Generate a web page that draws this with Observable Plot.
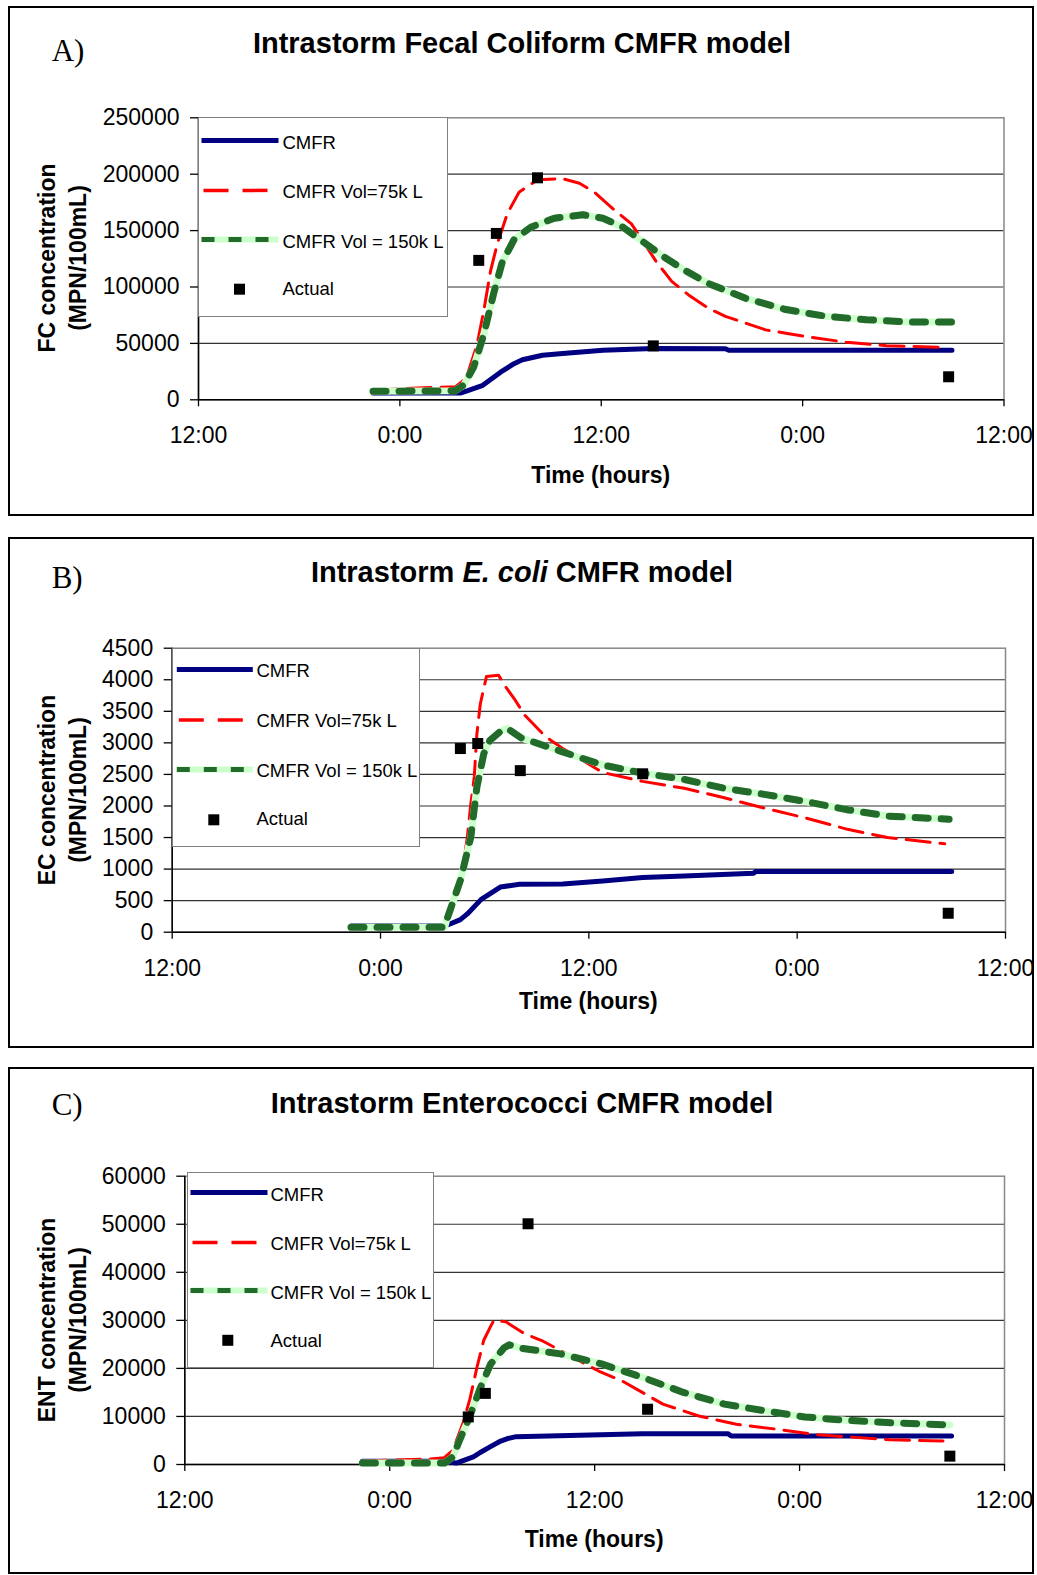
<!DOCTYPE html>
<html><head><meta charset="utf-8">
<script src="https://cdn.jsdelivr.net/npm/d3@7"></script>
<script src="https://cdn.jsdelivr.net/npm/@observablehq/plot@0.6"></script>
<style>
body{margin:0;background:#fff;}
#page{position:relative;width:1037px;height:1575px;overflow:hidden;font-family:"Liberation Sans",Arial,sans-serif;color:#000;}
.box{position:absolute;border:2px solid #000;box-sizing:border-box;pointer-events:none;}
.abs{position:absolute;white-space:nowrap;}
.letter{font-family:"Liberation Serif","Times New Roman",serif;font-size:31px;line-height:1;}
.title{font-weight:bold;font-size:29px;line-height:1;text-align:center;}
.xt{font-weight:bold;font-size:23px;line-height:1;text-align:center;}
.yt{font-weight:bold;font-size:23px;line-height:31px;text-align:center;transform:rotate(-90deg);}
.legend{position:absolute;background:#fff;border:1.5px solid #808080;box-sizing:border-box;}
.legend .lab{position:absolute;font-size:18.5px;line-height:24px;white-space:nowrap;}
.plotsvg{position:absolute;left:0;}
</style></head><body><div id="page"></div>
<script>
// ---------- shared ----------
const timeTicks = [0, 12, 24, 36, 48];
const timeTickLabels = ["12:00", "0:00", "12:00", "0:00", "12:00"];
const seriesNames = ["CMFR", "CMFR Vol=75k L", "CMFR Vol = 150k L", "Actual"];
const xTitle = "Time (hours)";

// ---------- Panel A : Fecal Coliform ----------
const fcTicks = [0, 50000, 100000, 150000, 200000, 250000];
const fcCmfrT = [10.4, 15.6, 16.0, 16.9, 18.0, 18.8, 19.3, 20.5, 21.7, 24.1, 27.1, 31.4, 31.6, 44.9];
const fcCmfrV = [6000, 6000, 8000, 12500, 24500, 32000, 35500, 39500, 41000, 44000, 45500, 45300, 44000, 44000];
const fcVol75T = [10.4, 13.0, 15.3, 15.7, 16.0, 16.6, 17.0, 17.4, 17.8, 18.4, 19.1, 20.2, 21.7, 22.7, 23.6, 24.8, 25.8, 27.3, 28.2, 29.2, 30.4, 31.4, 32.6, 33.8, 35.0, 36.2, 38.6, 41.0, 44.2];
const fcVol75V = [8500, 10500, 11500, 16000, 21000, 49000, 79000, 114000, 138000, 165000, 184000, 195000, 196000, 192000, 184000, 168000, 156000, 122000, 105000, 93000, 81000, 74000, 68000, 62000, 59000, 56000, 51000, 48000, 46500];
const fcVol150T = [10.4, 15.3, 15.8, 16.4, 17.0, 17.6, 18.1, 18.8, 19.8, 21.2, 22.9, 24.1, 25.3, 26.5, 27.7, 28.95, 30.4, 32.6, 35.0, 37.4, 39.8, 42.2, 44.9];
const fcVol150V = [7500, 8000, 13000, 29000, 58000, 95000, 122000, 142000, 153000, 161000, 164000, 161000, 153000, 140000, 127000, 115000, 103000, 90000, 80000, 74000, 71000, 69000, 69000];
const fcActualT = [16.7, 17.75, 20.2, 27.1, 44.7];
const fcActualV = [123600, 147500, 196800, 47800, 20400];

// ---------- Panel B : E. coli ----------
const ecTicks = [0, 500, 1000, 1500, 2000, 2500, 3000, 3500, 4000, 4500];
const ecCmfrT = [10.3, 15.7, 16.0, 16.6, 17.0, 17.8, 18.9, 20.0, 22.5, 24.8, 27.1, 29.5, 33.5, 33.6, 44.9];
const ecCmfrV = [100, 100, 130, 200, 290, 520, 715, 760, 765, 810, 865, 890, 935, 960, 960];
const ecVol75T = [10.3, 15.7, 16.2, 16.7, 17.0, 17.2, 17.4, 17.55, 17.75, 18.1, 18.8, 19.2, 19.75, 20.3, 21.5, 22.45, 24.8, 27.1, 29.5, 31.8, 34.2, 36.5, 38.9, 41.2, 44.5];
const ecVol75V = [90, 100, 555, 925, 1505, 2030, 2460, 3140, 3620, 4050, 4070, 3890, 3680, 3440, 3100, 2920, 2530, 2390, 2280, 2130, 1960, 1810, 1630, 1500, 1400];
const ecVol150T = [10.3, 15.7, 15.8, 16.6, 17.2, 17.55, 17.95, 18.3, 18.9, 19.3, 20.1, 22.45, 24.8, 27.1, 29.5, 31.8, 34.2, 36.5, 38.9, 41.2, 44.75];
const ecVol150V = [80, 80, 185, 820, 1505, 2300, 2830, 3040, 3180, 3230, 3080, 2860, 2650, 2520, 2420, 2280, 2180, 2070, 1940, 1840, 1790];
const ecActualT = [16.6, 17.6, 20.05, 27.1, 44.7];
const ecActualV = [2910, 2990, 2560, 2510, 300];

// ---------- Panel C : Enterococci ----------
const entTicks = [0, 10000, 20000, 30000, 40000, 50000, 60000];
const entCmfrT = [10.4, 15.0, 15.9, 16.9, 17.3, 17.9, 18.5, 18.9, 19.4, 21.3, 26.8, 31.8, 32.0, 44.9];
const entCmfrV = [700, 700, 300, 1570, 2500, 3710, 4880, 5400, 5790, 5930, 6420, 6420, 5930, 5930];
const entVol75T = [10.4, 12.8, 14.2, 15.2, 15.7, 16.3, 16.7, 17.1, 17.5, 17.9, 18.1, 18.8, 19.9, 20.9, 22.0, 24.2, 25.6, 28.0, 30.1, 32.3, 34.7, 36.8, 38.95, 41.3, 44.4];
const entVol75V = [700, 1000, 1100, 1430, 3000, 8700, 13700, 20100, 25800, 28700, 30000, 29700, 27200, 25800, 23700, 19500, 17400, 12560, 10100, 8370, 7330, 6280, 5720, 5160, 4880];
const entVol150T = [10.4, 15.2, 15.7, 16.1, 16.7, 17.3, 17.9, 18.7, 19.0, 19.7, 22.0, 24.4, 26.8, 29.2, 31.6, 34.0, 36.3, 38.7, 41.1, 44.8];
const entVol150V = [300, 300, 1570, 5140, 10140, 15860, 20860, 24300, 24900, 24200, 23020, 20930, 18140, 15000, 12560, 11160, 9900, 9210, 8720, 8230];
const entActualT = [16.6, 17.6, 20.1, 27.1, 44.8];
const entActualV = [9900, 14800, 50100, 11500, 1740];

// ---------- layout (positions only) ----------
const panels = [
  {letter: "A)", titleHTML: "Intrastorm Fecal Coliform CMFR model", yTitle: ["FC concentration", "(MPN/100mL)"],
   ticks: fcTicks, s: [[fcCmfrT, fcCmfrV], [fcVol75T, fcVol75V], [fcVol150T, fcVol150V], [fcActualT, fcActualV]],
   boxTop: 6, boxBottom: 516, left: 198, right: 1003.5, top: 117.3, bottom: 399.3,
   titleTop: 28.8, letterTop: 35, xtTop: 464.4,
   leg: {left: 198, top: 117.3, w: 250, h: 200, rows: [26, 75.4, 125, 172.7], x1: 4, x2: 81, tx: 85, mx: 42}},
  {letter: "B)", titleHTML: "Intrastorm <i>E. coli</i> CMFR model", yTitle: ["EC concentration", "(MPN/100mL)"],
   ticks: ecTicks, s: [[ecCmfrT, ecCmfrV], [ecVol75T, ecVol75V], [ecVol150T, ecVol150V], [ecActualT, ecActualV]],
   boxTop: 537, boxBottom: 1048, left: 171.7, right: 1005, top: 647.7, bottom: 931.7,
   titleTop: 557.8, letterTop: 562.3, xtTop: 990.4,
   leg: {left: 171.7, top: 647.7, w: 248.3, h: 199, rows: [24, 74, 124, 172.3], x1: 5.3, x2: 81.3, tx: 85.3, mx: 42.3}},
  {letter: "C)", titleHTML: "Intrastorm Enterococci CMFR model", yTitle: ["ENT concentration", "(MPN/100mL)"],
   ticks: entTicks, s: [[entCmfrT, entCmfrV], [entVol75T, entVol75V], [entVol150T, entVol150V], [entActualT, entActualV]],
   boxTop: 1067, boxBottom: 1574, left: 184.3, right: 1004, top: 1175.7, bottom: 1464,
   titleTop: 1088.8, letterTop: 1089, xtTop: 1528.4,
   leg: {left: 186.7, top: 1172.3, w: 247.3, h: 195.7, rows: [23, 72.6, 121, 168.8], x1: 4, x2: 81, tx: 84.3, mx: 41.3}}
];

const C_BLUE = "#000080", C_RED = "#FF0000", C_LGREEN = "#CCFFCC", C_DGREEN = "#236B2A";
const page = document.getElementById("page");

function el(cls, css, html) {
  const d = document.createElement("div");
  d.className = cls;
  Object.assign(d.style, css);
  if (html !== undefined) d.innerHTML = html;
  page.appendChild(d);
  return d;
}

for (const p of panels) {
  const H = p.boxBottom - p.boxTop;
  const rows = ([t, v]) => t.map((x, i) => ({t: x, v: v[i]}));
  const [blue, red, green, actual] = p.s.map(rows);
  const yMax = p.ticks[p.ticks.length - 1];
  const chart = Plot.plot({
    width: 1037, height: H,
    marginLeft: p.left, marginRight: 1037 - p.right,
    marginTop: p.top - p.boxTop, marginBottom: p.boxBottom - p.bottom,
    x: {domain: [0, 48]},
    y: {domain: [0, yMax]},
    style: {fontFamily: "'Liberation Sans', Arial, sans-serif", fontSize: "23px", color: "#000", background: "transparent", overflow: "visible"},
    marks: [
      Plot.gridY({ticks: p.ticks.slice(1, -1), stroke: "#333", strokeOpacity: 1, strokeWidth: 1.2}),
      Plot.frame({stroke: "#888", strokeWidth: 1.5}),
      Plot.ruleY([0], {stroke: "#000", strokeWidth: 1.5}),
      Plot.ruleX([0], {stroke: "#000", strokeWidth: 1.5}),
      Plot.axisY({ticks: p.ticks, tickSize: 8, tickPadding: 11, tickFormat: d => String(d), label: null, strokeWidth: 1.3}),
      Plot.axisX({ticks: timeTicks, tickSize: 7, tickPadding: 20, tickFormat: d => timeTickLabels[timeTicks.indexOf(d)], label: null, strokeWidth: 1.3}),
      Plot.line(blue, {x: "t", y: "v", stroke: C_BLUE, strokeWidth: 5}),
      Plot.line(red, {x: "t", y: "v", stroke: C_RED, strokeWidth: 3, strokeDasharray: "24,10"}),
      Plot.line(green, {x: "t", y: "v", stroke: C_LGREEN, strokeWidth: 7}),
      Plot.line(green, {x: "t", y: "v", stroke: C_DGREEN, strokeWidth: 7, strokeDasharray: "13,13"}),
      Plot.dot(actual, {x: "t", y: "v", symbol: "square", r: 6.2, fill: "#000", stroke: "none"})
    ]
  });
  chart.classList.add("plotsvg");
  chart.style.top = p.boxTop + "px";
  page.appendChild(chart);

  // panel box
  el("box", {left: "8px", top: p.boxTop + "px", width: "1026px", height: H + "px"});
  // letter + title
  el("abs letter", {left: "51.7px", top: p.letterTop + "px"}, p.letter);
  el("abs title", {left: "8px", width: "1028px", top: p.titleTop + "px"}, p.titleHTML);
  // axis titles
  el("abs xt", {left: (p.left + p.right) / 2 - 200 + "px", width: "400px", top: p.xtTop + "px"}, xTitle);
  const cy = (p.top + p.bottom) / 2;
  el("abs yt", {left: (62.5 - 160) + "px", width: "320px", height: "62px", top: (cy - 31) + "px"}, p.yTitle.join("<br>"));

  // legend
  const L = p.leg, b = 1.5;
  const lg = el("legend", {left: L.left + "px", top: L.top + "px", width: L.w + "px", height: L.h + "px"});
  const r = L.rows.map(y => y - b), x1 = L.x1 - b, x2 = L.x2 - b;
  lg.innerHTML =
    `<svg width="${L.w}" height="${L.h}" style="position:absolute;left:0;top:0;overflow:visible">` +
    `<line x1="${x1}" x2="${x2}" y1="${r[0] - 2}" y2="${r[0] - 2}" stroke="${C_BLUE}" stroke-width="5"/>` +
    `<line x1="${x1 + 2}" x2="${x2}" y1="${r[1] - 1.5}" y2="${r[1] - 1.5}" stroke="${C_RED}" stroke-width="3.5" stroke-dasharray="25,14"/>` +
    `<line x1="${x1}" x2="${x2}" y1="${r[2] - 2}" y2="${r[2] - 2}" stroke="${C_LGREEN}" stroke-width="6"/>` +
    `<line x1="${x1}" x2="${x2}" y1="${r[2] - 2}" y2="${r[2] - 2}" stroke="${C_DGREEN}" stroke-width="5" stroke-dasharray="13,14"/>` +
    `<rect x="${L.mx - b - 5.5}" y="${r[3] - 5.5}" width="11" height="11" fill="#000"/>` +
    `</svg>` +
    seriesNames.map((n, i) => `<div class="lab" style="left:${L.tx - b}px;top:${r[i] - 12}px">${n}</div>`).join("");
}
</script></body></html>
